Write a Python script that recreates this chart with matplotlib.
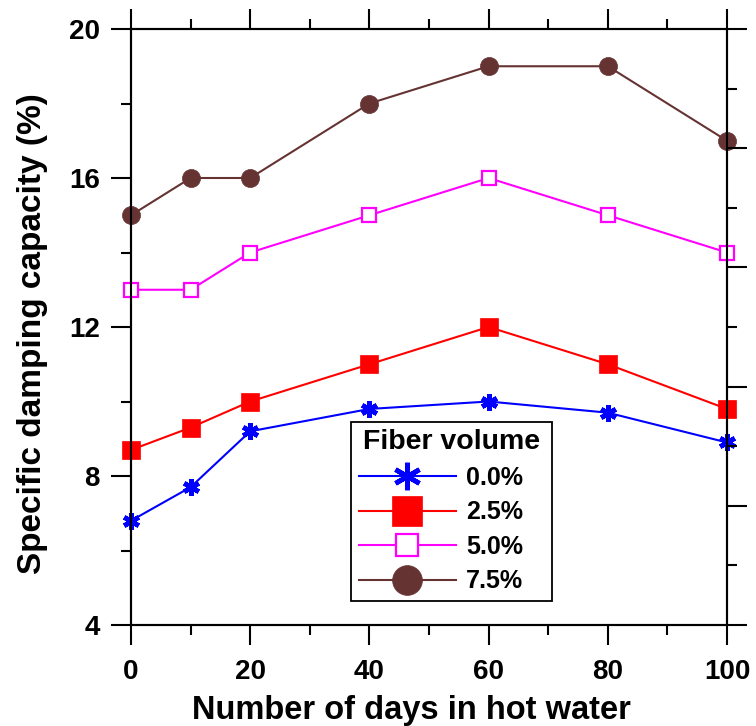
import matplotlib
matplotlib.use("Agg")
import matplotlib.pyplot as plt
from matplotlib.ticker import MultipleLocator

plt.rcParams['font.family'] = ['Liberation Sans', 'DejaVu Sans']
plt.rcParams['font.weight'] = 'bold'

days = [0, 10, 20, 40, 60, 80, 100]
fiber_00 = [6.8, 7.7, 9.2, 9.8, 10.0, 9.7, 8.9]
fiber_25 = [8.7, 9.3, 10.0, 11.0, 12.0, 11.0, 9.8]
fiber_50 = [13.0, 13.0, 14.0, 15.0, 16.0, 15.0, 14.0]
fiber_75 = [15.0, 16.0, 16.0, 18.0, 19.0, 19.0, 17.0]
labels = ["0.0%", "2.5%", "5.0%", "7.5%"]

fig = plt.figure(figsize=(7.56, 7.26), dpi=100)
ax = fig.add_axes([131/756, 1-625/726, 596/756, 596/726])

lw = 1.5
ax.plot(days, fiber_00, color='#0000FF', lw=lw, marker=(6, 2, 0), ms=12, mew=3.4,
        mec='#0000FF', label=labels[0], clip_on=False, zorder=3)
ax.plot(days, fiber_25, color='#FF0000', lw=lw, marker='s', ms=13, mew=0.5,
        mfc='#FF0000', mec='#FF0000', label=labels[1], clip_on=False, zorder=3)
ax.plot(days, fiber_50, color='#FF00FF', lw=lw, marker='s', ms=9.5, mew=1.6,
        mfc='white', mec='#FF00FF', label=labels[2], clip_on=False, zorder=3)
ax.plot(days, fiber_75, color='#663333', lw=lw, marker='o', ms=13, mew=0.5,
        mfc='#663333', mec='#663333', label=labels[3], clip_on=False, zorder=3)

ax.set_xlim(0, 100)
ax.set_ylim(4, 20)
ax.xaxis.set_major_locator(MultipleLocator(20))
ax.xaxis.set_minor_locator(MultipleLocator(10))
ax.yaxis.set_major_locator(MultipleLocator(4))
ax.yaxis.set_minor_locator(MultipleLocator(2))

for s in ax.spines.values():
    s.set_linewidth(1.5)

# secondary right axis (different tick spacing, no labels)
ax2 = ax.twinx()
ax2.set_ylim(0, 10)
ax2.yaxis.set_major_locator(MultipleLocator(2))
ax2.yaxis.set_minor_locator(MultipleLocator(1))
ax2.tick_params(axis='y', which='major', direction='out', length=14.4, width=1.5,
                labelright=False)
ax2.tick_params(axis='y', which='minor', direction='out', length=7.2, width=1.5)
for s in ax2.spines.values():
    s.set_linewidth(1.5)

ax.tick_params(which='both', direction='out', top=True, width=1.5, labelsize=20)
ax.tick_params(which='major', length=14.4)
ax.tick_params(which='minor', length=7.2)
ax.tick_params(axis='y', pad=8)
ax.tick_params(axis='x', pad=10)

ax.set_xlabel("Number of days in hot water", fontsize=23.5, fontweight='bold')
ax.set_ylabel("Specific damping capacity (%)", fontsize=24, fontweight='bold')
ax.xaxis.set_label_coords(0.4706, -0.118)
ax.yaxis.set_label_coords(-0.14, 0.489)

leg = ax.legend(loc='lower left', bbox_to_anchor=(0.369, 0.040, 0.337, 0.3),
                mode='expand', borderaxespad=0,
                title="Fiber volume", title_fontproperties={'weight': 'bold', 'size': 20.5},
                prop={'weight': 'bold', 'size': 18}, markerscale=1.65,
                handlelength=3.9, handletextpad=0.4, labelspacing=0.42,
                borderpad=0.31, fancybox=False, framealpha=1, edgecolor='black')
leg.get_frame().set_linewidth(1.3)
leg.set_zorder(10)

fig.savefig("out.png", dpi=100)
